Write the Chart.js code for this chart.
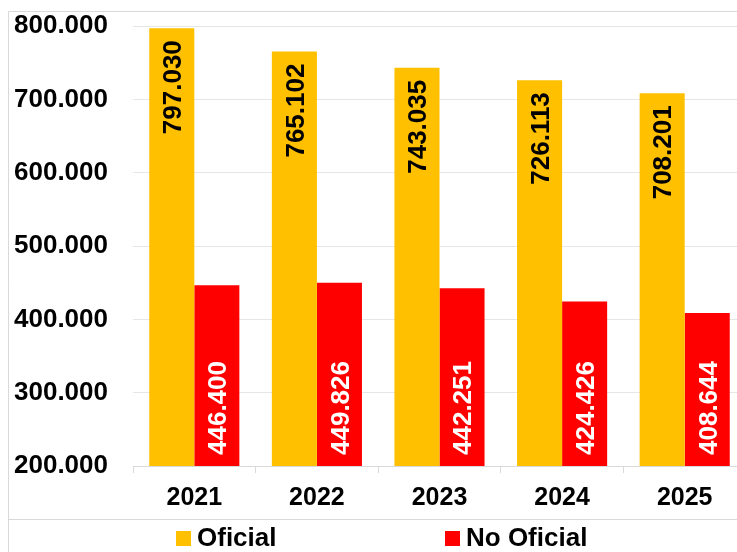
<!DOCTYPE html>
<html>
<head>
<meta charset="utf-8">
<script src="https://cdn.jsdelivr.net/npm/chart.js@4"></script>
<style>
html,body{margin:0;padding:0;background:#fff;overflow:hidden;width:737px;height:552px;}
#c{position:absolute;left:0;top:0;}
</style>
</head>
<body>
<canvas id="c" width="760" height="552"></canvas>
<script>
const categories = ['2021', '2022', '2023', '2024', '2025'];
const seriesNames = ['Oficial', 'No Oficial'];
const oficial = [797030, 765102, 743035, 726113, 708201];
const noOficial = [446400, 449826, 442251, 424426, 408644];
const yMin = 200000, yMax = 800000, yStep = 100000;
const colors = ['#FFC000', '#FF0000'];
const labelColors = ['#000000', '#FFFFFF'];

const FONT = '"Liberation Sans", Arial, sans-serif';
function fmt(v) { return String(v).replace(/\B(?=(\d{3})+(?!\d))/g, '.'); }

const framePlugin = {
  id: 'frame',
  beforeDraw(chart) {
    const ctx = chart.ctx;
    ctx.save();
    ctx.strokeStyle = '#d9d9d9';
    ctx.lineWidth = 1;
    ctx.beginPath();
    ctx.moveTo(8.5, 552); ctx.lineTo(8.5, 11.5); ctx.lineTo(760, 11.5);
    ctx.moveTo(8.5, 519.5); ctx.lineTo(760, 519.5);
    ctx.stroke();
    ctx.restore();
  }
};

const labelPlugin = {
  id: 'barLabels',
  afterDatasetsDraw(chart) {
    const ctx = chart.ctx;
    const bottom = chart.chartArea.bottom;
    ctx.save();
    ctx.font = 'bold 26px ' + FONT;
    chart.data.datasets.forEach((ds, i) => {
      const meta = chart.getDatasetMeta(i);
      meta.data.forEach((bar, j) => {
        const base = Math.min(bar.base, bottom);
        ctx.save();
        ctx.translate(bar.x, i === 0 ? bar.y + 12 : base - 11);
        ctx.rotate(-Math.PI / 2);
        ctx.textAlign = i === 0 ? 'right' : 'left';
        ctx.textBaseline = 'alphabetic';
        ctx.fillStyle = labelColors[i];
        ctx.fillText(fmt(ds.data[j]), 0, 9.3);
        ctx.restore();
      });
    });
    ctx.restore();
  }
};

const legendPlugin = {
  id: 'customLegend',
  afterDraw(chart) {
    const ctx = chart.ctx;
    const pos = [[176, 197], [445, 466]];
    ctx.save();
    ctx.font = 'bold 26px ' + FONT;
    ctx.textBaseline = 'alphabetic';
    ctx.textAlign = 'left';
    chart.data.datasets.forEach((ds, i) => {
      ctx.fillStyle = ds.backgroundColor;
      ctx.fillRect(pos[i][0], 531, 15, 15);
      ctx.fillStyle = '#000';
      ctx.fillText(ds.label, pos[i][1], 545.5);
    });
    ctx.restore();
  }
};

new Chart(document.getElementById('c'), {
  type: 'bar',
  data: {
    labels: categories,
    datasets: [
      { label: seriesNames[0], data: oficial, backgroundColor: colors[0] },
      { label: seriesNames[1], data: noOficial, backgroundColor: colors[1] }
    ]
  },
  options: {
    responsive: false,
    devicePixelRatio: 1,
    animation: false,
    layout: { padding: { left: 0, right: 14, top: 26, bottom: 33 } },
    datasets: { bar: { categoryPercentage: 0.735, barPercentage: 1.0 } },
    plugins: { legend: { display: false }, tooltip: { enabled: false } },
    scales: {
      x: {
        afterFit(s) { s.height = 53; },
        grid: { offset: true, drawOnChartArea: false, drawTicks: true, tickLength: 7, color: '#d9d9d9' },
        border: { display: true, color: '#d9d9d9' },
        ticks: { color: '#000', font: { family: FONT, size: 25, weight: 'bold' }, padding: 10 }
      },
      y: {
        min: yMin, max: yMax,
        afterFit(s) { s.width = 133; },
        grid: { color: '#e6e6e6', drawTicks: true, tickLength: 25, tickColor: 'rgba(0,0,0,0)' },
        border: { display: false },
        ticks: {
          stepSize: yStep,
          color: '#000',
          padding: 0,
          font: { family: FONT, size: 26, weight: 'bold' },
          callback: (v) => fmt(v)
        }
      }
    }
  },
  plugins: [framePlugin, labelPlugin, legendPlugin]
});
</script>
</body>
</html>
